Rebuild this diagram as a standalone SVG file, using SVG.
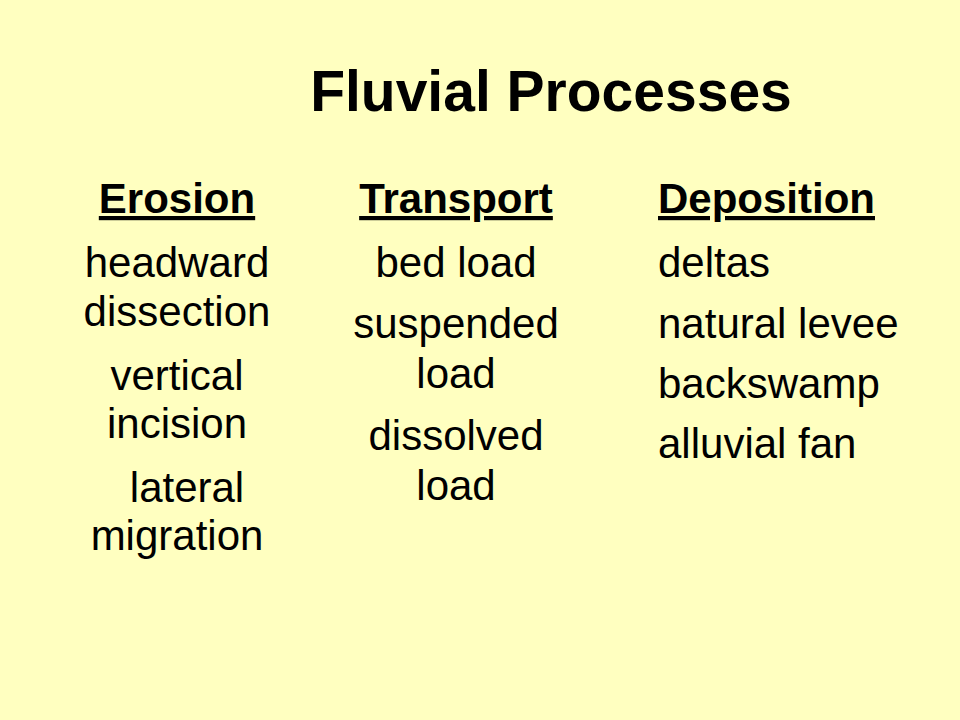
<svg xmlns="http://www.w3.org/2000/svg" width="960" height="720" viewBox="0 0 960 720">
<style>
text{font-family:"Liberation Sans",Arial,sans-serif;fill:#000}
.t{font-size:57px;font-weight:bold;text-anchor:middle}
.h{font-size:42px;font-weight:bold;text-decoration:underline}
.b{font-size:42px}
.c{text-anchor:middle}
</style>
<rect width="960" height="720" fill="#FFFFC0"/>
<text class="t" x="551" y="111">Fluvial Processes</text>
<g id="erosion">
<text class="h c" x="177" y="213">Erosion</text>
<text class="b c" x="177" y="277">headward</text>
<text class="b c" x="177" y="326">dissection</text>
<text class="b c" x="177" y="390">vertical</text>
<text class="b c" x="177" y="438">incision</text>
<text class="b c" x="187" y="502">lateral</text>
<text class="b c" x="177" y="550">migration</text>
</g>
<g id="transport">
<text class="h c" x="456" y="213">Transport</text>
<text class="b c" x="456" y="277">bed load</text>
<text class="b c" x="456" y="338">suspended</text>
<text class="b c" x="456" y="388">load</text>
<text class="b c" x="456" y="450">dissolved</text>
<text class="b c" x="456" y="500">load</text>
</g>
<g id="deposition">
<text class="h" x="658" y="213">Deposition</text>
<text class="b" x="658" y="277">deltas</text>
<text class="b" x="658" y="338">natural levee</text>
<text class="b" x="658" y="398">backswamp</text>
<text class="b" x="658" y="458">alluvial fan</text>
</g>
<g id="connectors"/>
</svg>
